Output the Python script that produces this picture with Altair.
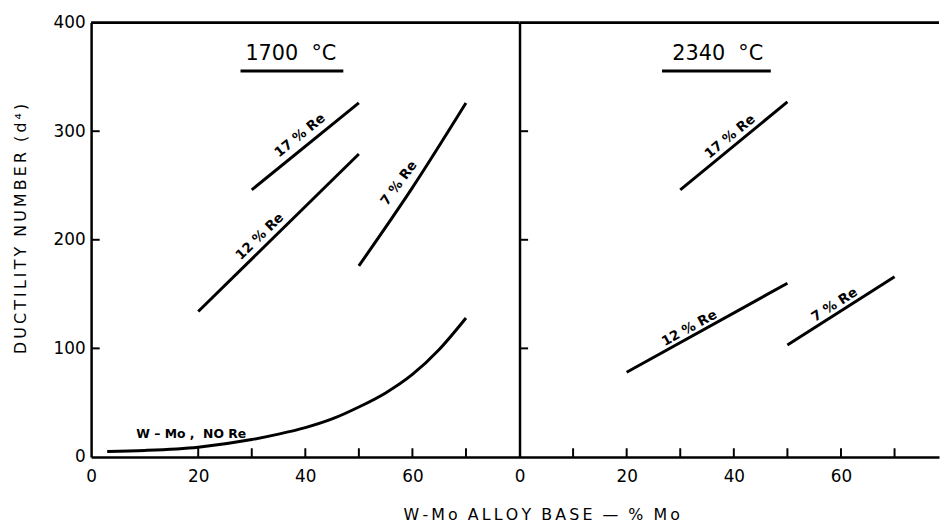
import altair as alt
import pandas as pd

FONT = "DejaVu Sans"
TS = "\u2009"   # thin space used to imitate the wide lettering
NB = "\u00a0"   # non-breaking space (not collapsed in SVG)

# ---------------- data ----------------
# 1700 °C panel
none_x = [3, 10, 20, 30, 35, 40, 45, 50, 55, 60, 65, 70]
none_y = [5, 6, 9, 16, 21, 27, 35, 46, 59, 76, 99, 128]
l17_x = [30, 50]
l17_y = [246, 326]
l12_x = [20, 50]
l12_y = [134, 279]
l7_x = [50, 60, 70]
l7_y = [176, 248, 326]
# 2340 °C panel
r17_x = [30, 50]
r17_y = [246, 327]
r12_x = [20, 50]
r12_y = [78, 160]
r7_x = [50, 70]
r7_y = [103, 166]

# axes
x_label_vals = [0, 20, 40, 60]
y_label_vals = [0, 100, 200, 300, 400]
left_xticks = [20, 30, 40, 50, 60, 70]
right_xticks = [10, 20, 30, 40, 50, 60, 70]
yticks = [100, 200, 300]

# curve labels
l_lab_text = ["17 % Re", "12 % Re", "7 % Re"]
l_lab_x = [39.0, 31.5, 57.5]
l_lab_y = [296, 203, 252]
l_lab_angle = [321, 316, 306.5]
r_lab_text = ["17 % Re", "12 % Re", "7 % Re"]
r_lab_x = [39.3, 31.7, 58.8]
r_lab_y = [295, 118.5, 140]
r_lab_angle = [320.6, 331.4, 327.4]
none_label = "W – Mo ,  NO Re"
none_label_x = 18.7
none_label_y = 21

panel_titles = ["1700  °C", "2340  °C"]
title_x = [37.3, 37.0]
title_y = 371
underline_x1 = [27.9, 26.6]
underline_x2 = [47.1, 46.9]
underline_y = 355.4


def spaced(s):
    words = s.split(" ")
    return (NB * 2).join(TS.join(list(w)) for w in words)


x_title = spaced("W-Mo ALLOY BASE — % Mo")
y_title = spaced("DUCTILITY NUMBER (d⁴)")


def lines_df(series):
    rows = []
    for name, xs, ys in series:
        for a, b in zip(xs, ys):
            rows.append({"s": name, "x": a, "y": b})
    return pd.DataFrame(rows)


def panel(series, xticks, labels, title_idx, xmax, width, is_left):
    xs = alt.Scale(domain=[0, xmax], nice=False, zero=False)
    ys = alt.Scale(domain=[0, 400], nice=False)

    xaxis_kw = dict(
        values=x_label_vals, ticks=False, grid=False, domainWidth=2.5,
        domainColor="black", labelFontSize=17, labelFont=FONT, labelPadding=12,
        labelFlush=False, labelOverlap=False, labelColor="black",
    )
    if is_left:
        xaxis = alt.Axis(
            title=x_title, titleFont=FONT, titleFontSize=16, titleFontWeight="normal",
            titleColor="black", titleX=455, titleY=63, titleAlign="center",
            titleBaseline="alphabetic", titleAnchor="start", **xaxis_kw)
        yaxis = alt.Axis(
            values=y_label_vals, ticks=False, grid=False, domainWidth=2.5,
            domainColor="black", labelFontSize=17, labelFont=FONT, labelPadding=6,
            labelColor="black", labelOverlap=False, labelFlush=False,
            title=y_title, titleFont=FONT, titleFontSize=16, titleFontWeight="normal",
            titleColor="black", titleX=-66, titleY=208, titleAngle=270,
            titleAlign="center", titleBaseline="alphabetic")
    else:
        xaxis = alt.Axis(title=None, **xaxis_kw)
        yaxis = alt.Axis(
            values=y_label_vals, ticks=False, grid=False, domainWidth=2.5,
            domainColor="black", labels=False, title=None)

    X = lambda f: alt.X(f, scale=xs, axis=xaxis)
    Y = lambda f: alt.Y(f, scale=ys, axis=yaxis)

    base_lines = alt.Chart(lines_df(series)).mark_line(
        color="black", strokeWidth=3, interpolate="monotone"
    ).encode(x=X("x:Q"), y=Y("y:Q"), detail="s:N")

    xt = pd.DataFrame({"x": xticks, "y": [0] * len(xticks), "y2": [8] * len(xticks)})
    xtick_layer = alt.Chart(xt).mark_rule(color="black", strokeWidth=2).encode(
        x=X("x:Q"), y=Y("y:Q"), y2="y2:Q")

    yt = pd.DataFrame({"y": yticks, "x": [0] * len(yticks), "x2": [1.6] * len(yticks)})
    ytick_layer = alt.Chart(yt).mark_rule(color="black", strokeWidth=2).encode(
        y=Y("y:Q"), x=X("x:Q"), x2="x2:Q")

    top = pd.DataFrame({"x": [0], "x2": [xmax], "y": [400]})
    top_layer = alt.Chart(top).mark_rule(color="black", strokeWidth=3).encode(
        x=X("x:Q"), x2="x2:Q", y=Y("y:Q"))

    tdf = pd.DataFrame({"t": [panel_titles[title_idx].replace(" ", NB)],
                        "x": [title_x[title_idx]], "y": [title_y]})
    title_layer = alt.Chart(tdf).mark_text(
        font=FONT, fontSize=21, color="black", align="center", baseline="middle"
    ).encode(x=X("x:Q"), y=Y("y:Q"), text="t:N")

    udf = pd.DataFrame({"x": [underline_x1[title_idx]], "x2": [underline_x2[title_idx]], "y": [underline_y]})
    ul_layer = alt.Chart(udf).mark_rule(color="black", strokeWidth=3).encode(
        x=X("x:Q"), x2="x2:Q", y=Y("y:Q"))

    text, lx, ly, la = labels
    ldf = pd.DataFrame({"t": text, "x": lx, "y": ly, "a": la})
    lab_layer = alt.Chart(ldf).mark_text(
        font=FONT, fontSize=13.5, fontWeight="bold", color="black",
        align="center", baseline="middle"
    ).encode(x=X("x:Q"), y=Y("y:Q"), text="t:N",
             angle=alt.Angle("a:Q", scale=None))

    layers = [base_lines, xtick_layer, ytick_layer, top_layer, title_layer, ul_layer, lab_layer]
    if is_left:
        ndf = pd.DataFrame({"t": [none_label.replace(" ", NB)], "x": [none_label_x], "y": [none_label_y]})
        layers.append(alt.Chart(ndf).mark_text(
            font=FONT, fontSize=12.5, fontWeight="bold", color="black",
            align="center", baseline="middle"
        ).encode(x=X("x:Q"), y=Y("y:Q"), text="t:N"))
    return alt.layer(*layers).properties(width=width, height=439)


left = panel(
    [("none", none_x, none_y), ("17", l17_x, l17_y), ("12", l12_x, l12_y), ("7", l7_x, l7_y)],
    left_xticks, (l_lab_text, l_lab_x, l_lab_y, l_lab_angle), 0, 80, 433, True)
right = panel(
    [("17", r17_x, r17_y), ("12", r12_x, r12_y), ("7", r7_x, r7_y)],
    right_xticks, (r_lab_text, r_lab_x, r_lab_y, r_lab_angle), 1, 78.3, 424, False)

chart = alt.hconcat(left, right, spacing=0, bounds="flush").properties(
    padding={"left": 5, "right": 0, "top": 3, "bottom": 0},
    background="white",
).configure_view(stroke=None)

chart.save("out.html", embed_options={"renderer": "svg", "actions": False})
